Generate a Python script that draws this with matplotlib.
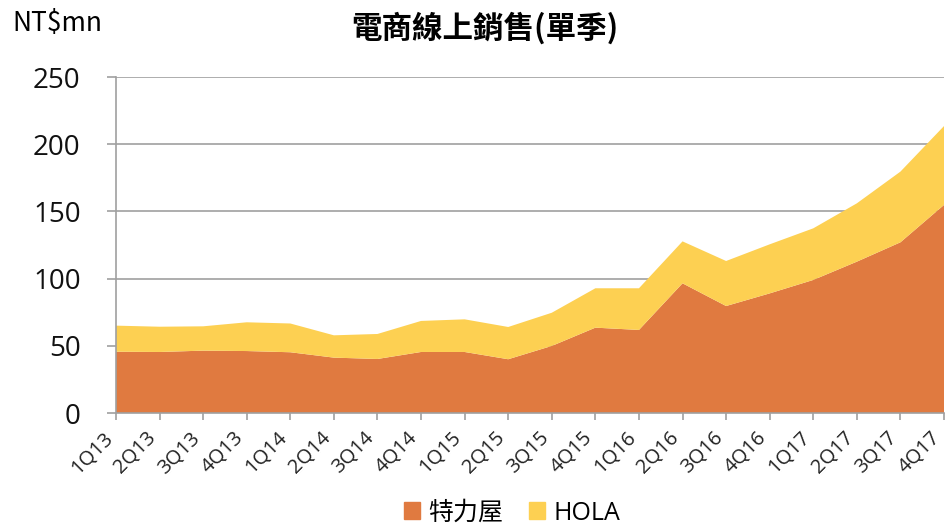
import numpy as np
import matplotlib
matplotlib.use('Agg')
import matplotlib.pyplot as plt
from matplotlib.patches import Patch

plt.rcParams['font.family'] = ['Open Sans', 'Noto Sans CJK TC', 'DejaVu Sans']

quarters = ['1Q13', '2Q13', '3Q13', '4Q13', '1Q14', '2Q14', '3Q14', '4Q14',
            '1Q15', '2Q15', '3Q15', '4Q15', '1Q16', '2Q16', '3Q16', '4Q16',
            '1Q17', '2Q17', '3Q17', '4Q17']
# 特力屋 (底層)
tlw = [45.6, 45.4, 46.4, 46.1, 45.2, 41.2, 40.2, 45.4, 45.4, 40.0,
       49.9, 63.5, 61.8, 96.5, 79.6, 89.0, 99.0, 112.6, 127.0, 154.8]
# 合計 (特力屋 + HOLA)
total = [65.0, 64.2, 64.5, 67.5, 66.6, 57.8, 58.8, 68.5, 69.7, 64.0,
         74.6, 92.8, 92.8, 127.7, 113.1, 125.5, 137.4, 156.0, 179.6, 213.5]
hola = [t - a for t, a in zip(total, tlw)]

c_tlw = '#E07A40'
c_hola = '#FDD052'
grey = '#A0A0A0'

fig = plt.figure(figsize=(9.48, 5.25), dpi=100)
ax = fig.add_axes([116/948, 1-413/525, (944-116)/948, (413-77)/525])

x = np.arange(len(quarters))
ax.stackplot(x, tlw, hola, colors=[c_tlw, c_hola], linewidth=0, zorder=2)

ax.set_xlim(0, len(quarters)-1)
ax.set_ylim(0, 250)
ax.set_yticks([0, 50, 100, 150, 200, 250])
ax.yaxis.grid(True, color=grey, linewidth=1.2, zorder=0)
ax.set_axisbelow(True)

ax.set_xticks(x)
ax.set_xticklabels([])
# x軸標籤自己畫，稍微往左移，避免最後一個被切掉
for i, q in enumerate(quarters):
    ax.annotate(q, xy=(i, 0), xycoords=('data', 'axes fraction'),
                xytext=(-4.5, -16), textcoords='offset points',
                rotation=45, ha='right', va='center', rotation_mode='anchor',
                fontsize=14.5, color='#222222', annotation_clip=False)
ax.tick_params(axis='y', labelsize=20, length=6.5, color=grey, width=1.2, pad=19)
ax.tick_params(axis='x', length=5, color=grey, width=1.2)
for lab in ax.get_yticklabels():
    lab.set_color('#111111')

for s in ['top', 'right']:
    ax.spines[s].set_visible(False)
for s in ['left', 'bottom']:
    ax.spines[s].set_color(grey)
    ax.spines[s].set_linewidth(1.2)

fig.text(485/948, 1-28/525, '電商線上銷售(單季)', ha='center', va='center',
         fontsize=22, fontweight='bold', family=['Noto Sans CJK TC'])
fig.text(12/948, 1-24/525, 'NT$mn', ha='left', va='center', fontsize=19,
         family=['Noto Sans CJK TC'])

handles = [Patch(color=c_tlw, label='特力屋'), Patch(color=c_hola, label='HOLA')]
fig.legend(handles=handles, loc='center', bbox_to_anchor=(512/948, 1-513/525),
           ncol=2, frameon=False, fontsize=18, handlelength=0.64, handleheight=0.64,
           handletextpad=0.32, columnspacing=1.04, borderpad=0, borderaxespad=0)

fig.savefig('out.png', dpi=100)
